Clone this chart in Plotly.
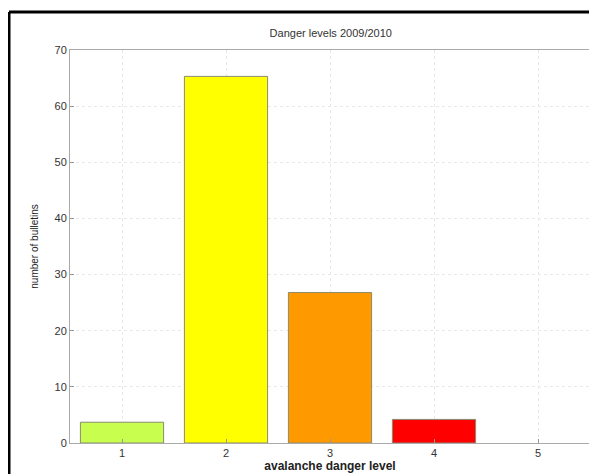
import plotly.graph_objects as go

levels = [1, 2, 3, 4, 5]
share = [3.7, 65.3, 26.8, 4.2, 0]
bar_colors = ["#c8ff4e", "#ffff00", "#ff9900", "#ff0000", "#ffffff"]
edge_colors = ["#8a8a70", "#8a8a70", "#8a8a70", "#8a8a70", "rgba(0,0,0,0)"]
yticks = [0, 10, 20, 30, 40, 50, 60, 70]

fig = go.Figure(go.Bar(
    x=levels, y=share, width=0.8,
    marker=dict(color=bar_colors, line=dict(color=edge_colors, width=1)),
))

fnt = dict(family="Liberation Sans, Arial, sans-serif", size=11, color="#333333")
fig.update_layout(
    width=589, height=466,
    margin=dict(l=62, r=7, t=42, b=31),
    paper_bgcolor="white", plot_bgcolor="white",
    showlegend=False,
    font=fnt,
    title=dict(text="Danger levels 2009/2010", x=0.548, xanchor="center",
               y=0.946, yanchor="middle", font=dict(size=11, color="#333333")),
    xaxis=dict(range=[0.5, 5.5], tickvals=levels, ticks="inside", ticklen=4,
               tickcolor="#999999", showgrid=True, gridcolor="#e8e8e8",
               griddash="dot", showline=True, linecolor="#aaaaaa", mirror=True,
               zeroline=False,
               title=dict(text="<b>avalanche danger level</b>", standoff=0,
                          font=dict(size=12, color="#222222"))),
    yaxis=dict(range=[0, 70], tickvals=yticks, ticks="inside", ticklen=4,
               tickcolor="#999999", showgrid=True, gridcolor="#e8e8e8",
               griddash="dot", showline=True, linecolor="#aaaaaa", mirror=True,
               zeroline=False,
               title=dict(text="number of bulletins", standoff=14,
                          font=dict(size=10, color="#222222"))),
    shapes=[
        dict(type="line", xref="paper", yref="paper", x0=-0.1173, x1=1.02,
             y0=1.0967, y1=1.0967, line=dict(color="black", width=3)),
        dict(type="line", xref="paper", yref="paper", x0=-0.1173, x1=-0.1173,
             y0=1.0967, y1=-0.1, line=dict(color="black", width=3)),
    ],
)
fig.write_html("out.html")
